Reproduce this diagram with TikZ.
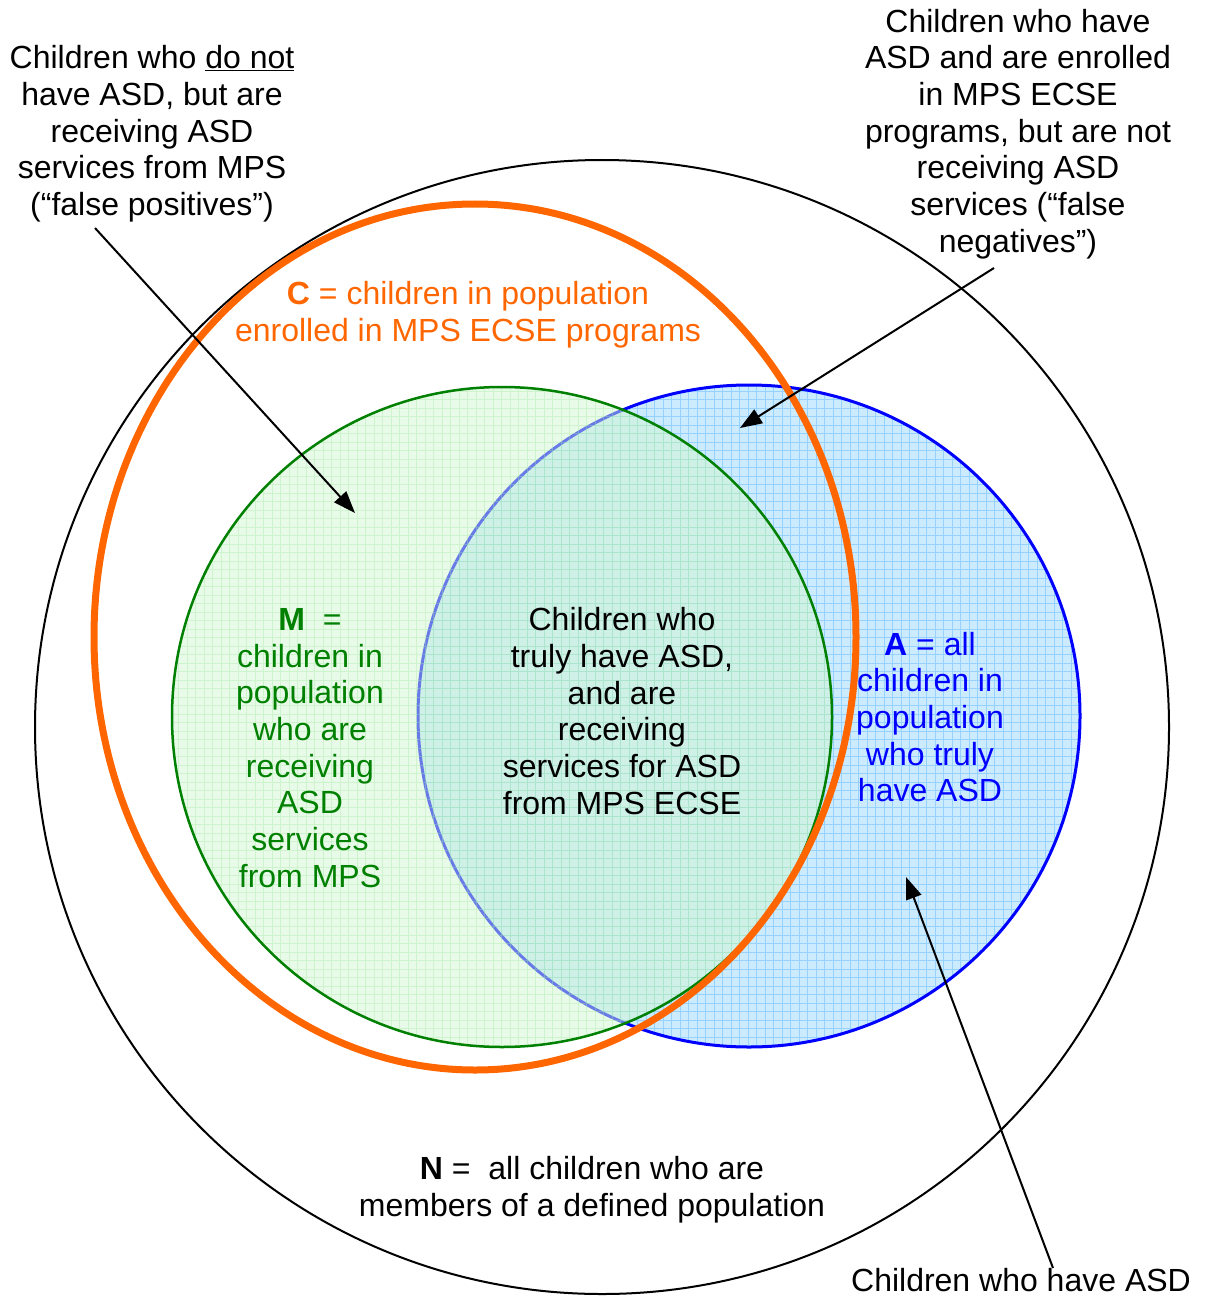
\documentclass[tikz,border=0pt]{standalone}
\usepackage{fontspec}
\setmainfont{Liberation Sans}
\usetikzlibrary{arrows.meta}
\definecolor{orng}{RGB}{255,102,0}
\definecolor{grn}{RGB}{0,128,0}
\definecolor{blu}{RGB}{0,0,255}
\definecolor{bluefill}{RGB}{205,235,255}
\definecolor{bluegrid}{RGB}{150,210,255}
\definecolor{greenfill}{RGB}{209,245,209}
\definecolor{greengrid}{RGB}{160,235,160}
\begin{document}
\begin{tikzpicture}[x=1pt,y=-1pt,
  lbl/.style={align=center, font=\fontsize{32}{36.7}\selectfont, inner sep=0pt},
  pointer/.style={draw=black, line width=2pt, -{Triangle[length=22pt,width=16pt]}},
  setN/.style={draw=black, line width=2pt},
  setA/.style={draw=blu, line width=3pt},
  setM/.style={draw=grn, line width=2.5pt},
  setC/.style={draw=orng, line width=7pt},
  texture/.style={line width=1pt},
]
\useasboundingbox (0,0) rectangle (1207,1297);
% N: population
\draw[setN] (602,727) circle [radius=567];
% A: truly have ASD
\fill[bluefill] (749,716) circle [radius=331];
\begin{scope}
  \clip (749,716) circle [radius=331];
  \draw[texture, bluegrid] (410,380) grid[step=8.5pt] (1090,1060);
\end{scope}
\draw[setA] (749,716) circle [radius=331];
% M: receiving services
\fill[greenfill, fill opacity=0.5] (502,717) circle [radius=330];
\begin{scope}
  \clip (502,717) circle [radius=330];
  \draw[texture, greengrid, draw opacity=0.35] (165,380) grid[step=8.5pt] (840,1060);
\end{scope}
\draw[setM] (502,717) circle [radius=330];
% C: enrolled
\draw[setC] (475,637) ellipse [x radius=381, y radius=433];

% labels
\node[lbl] (fp) at (152,134) {Children who \underline{do not}\\have ASD, but are\\receiving ASD\\services from MPS\\(“false positives”)};
\node[lbl] (fn) at (1018,134) {Children who have\\ASD and are enrolled\\in MPS ECSE\\programs, but are not\\receiving ASD\\services (“false\\negatives”)};
\node[lbl, text=orng] (cl) at (468,315) {\textbf{C} = children in population\\enrolled in MPS ECSE programs};
\node[lbl, text=grn] (ml) at (310,748) {\textbf{M}~~=\\children in\\population\\who are\\receiving\\ASD\\services\\from MPS};
\node[lbl] (tp) at (622,711) {Children who\\truly have ASD,\\and are\\receiving\\services for ASD\\from MPS ECSE};
\node[lbl, text=blu] (al) at (930,717) {\textbf{A} = all\\children in\\population\\who truly\\have ASD};
\node[lbl] (nl) at (592,1190) {\textbf{N} =~ all children who are\\members of a defined population};
\node[lbl, anchor=base] (hl) at (1021,1291) {Children who have ASD};

% pointers
\coordinate (fpS) at (95,228);
\coordinate (fpT) at (355,513);
\coordinate (fnS) at (994,268);
\coordinate (fnT) at (740,428);
\coordinate (hlS) at (1053,1268);
\coordinate (hlT) at (906,877);
\draw[pointer] (fpS) -- (fpT);
\draw[pointer] (fnS) -- (fnT);
\draw[pointer] (hlS) -- (hlT);
\end{tikzpicture}
\end{document}
